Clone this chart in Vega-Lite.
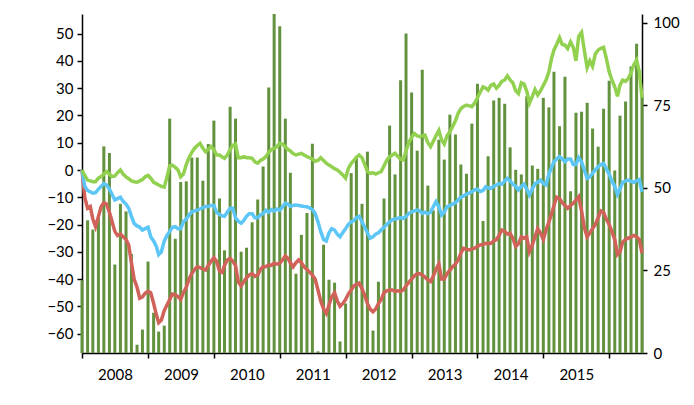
{
"$schema": "https://vega.github.io/schema/vega-lite/v6.json",
"width": 560, "height": 339,
"autosize": {"type": "none"},
"padding": {"left": 82, "top": 14, "right": 52, "bottom": 52},
"background": "white",
"config": {"view": {"stroke": null}, "axis": {"labelFont": "Lato", "labelFontSize": 15, "labelColor": "black", "domainColor": "black", "tickColor": "black", "domainWidth": 1.5, "tickWidth": 1.5, "grid": false, "title": null}},
"datasets": {
"bars": [
{"d":"2008-01-01","v":22},{"d":"2008-02-01","v":40.2},{"d":"2008-03-01","v":37.4},{"d":"2008-04-01","v":41},{"d":"2008-05-01","v":62.6},{"d":"2008-06-01","v":60.6},{"d":"2008-07-01","v":26.8},{"d":"2008-08-01","v":45.2},{"d":"2008-09-01","v":42.9},{"d":"2008-10-01","v":30},{"d":"2008-11-01","v":2.5},{"d":"2008-12-01","v":7.1},
{"d":"2009-01-01","v":27.7},{"d":"2009-02-01","v":12.2},{"d":"2009-03-01","v":6.5},{"d":"2009-04-01","v":8.3},{"d":"2009-05-01","v":71},{"d":"2009-06-01","v":34.6},{"d":"2009-07-01","v":51.8},{"d":"2009-08-01","v":52},{"d":"2009-09-01","v":59.2},{"d":"2009-10-01","v":59.2},{"d":"2009-11-01","v":52.2},{"d":"2009-12-01","v":63.3},
{"d":"2010-01-01","v":70.4},{"d":"2010-02-01","v":46.8},{"d":"2010-03-01","v":31.1},{"d":"2010-04-01","v":74.6},{"d":"2010-05-01","v":71},{"d":"2010-06-01","v":30.7},{"d":"2010-07-01","v":31.9},{"d":"2010-08-01","v":39.6},{"d":"2010-09-01","v":46.5},{"d":"2010-10-01","v":56.5},{"d":"2010-11-01","v":80.4},{"d":"2010-12-01","v":102.7},
{"d":"2011-01-01","v":99},{"d":"2011-02-01","v":71},{"d":"2011-03-01","v":54.6},{"d":"2011-04-01","v":24},{"d":"2011-05-01","v":35.8},{"d":"2011-06-01","v":42.4},{"d":"2011-07-01","v":63.4},{"d":"2011-08-01","v":0.5},{"d":"2011-09-01","v":32.8},{"d":"2011-10-01","v":22.2},{"d":"2011-11-01","v":21.3},{"d":"2011-12-01","v":3.5},
{"d":"2012-01-01","v":15},{"d":"2012-02-01","v":54.5},{"d":"2012-03-01","v":59.6},{"d":"2012-04-01","v":45.2},{"d":"2012-05-01","v":61},{"d":"2012-06-01","v":6.8},{"d":"2012-07-01","v":21.6},{"d":"2012-08-01","v":46.8},{"d":"2012-09-01","v":68.9},{"d":"2012-10-01","v":54.1},{"d":"2012-11-01","v":82.6},{"d":"2012-12-01","v":96.8},
{"d":"2013-01-01","v":78.9},{"d":"2013-02-01","v":61.3},{"d":"2013-03-01","v":85.8},{"d":"2013-04-01","v":50.7},{"d":"2013-05-01","v":43.2},{"d":"2013-06-01","v":64.6},{"d":"2013-07-01","v":58.6},{"d":"2013-08-01","v":72.2},{"d":"2013-09-01","v":66.2},{"d":"2013-10-01","v":57.1},{"d":"2013-11-01","v":54.3},{"d":"2013-12-01","v":69.5},
{"d":"2014-01-01","v":81.6},{"d":"2014-02-01","v":40},{"d":"2014-03-01","v":59.6},{"d":"2014-04-01","v":76.5},{"d":"2014-05-01","v":77.3},{"d":"2014-06-01","v":75.5},{"d":"2014-07-01","v":62.3},{"d":"2014-08-01","v":55.5},{"d":"2014-09-01","v":54.1},{"d":"2014-10-01","v":77.8},{"d":"2014-11-01","v":56.8},{"d":"2014-12-01","v":55.8},
{"d":"2015-01-01","v":77.3},{"d":"2015-02-01","v":74.4},{"d":"2015-03-01","v":85.2},{"d":"2015-04-01","v":68.7},{"d":"2015-05-01","v":83.7},{"d":"2015-06-01","v":49},{"d":"2015-07-01","v":72.8},{"d":"2015-08-01","v":73.1},{"d":"2015-09-01","v":75.8},{"d":"2015-10-01","v":68},{"d":"2015-11-01","v":62.5},{"d":"2015-12-01","v":74},
{"d":"2016-01-01","v":82.5},{"d":"2016-02-01","v":55.3},{"d":"2016-03-01","v":71.9},{"d":"2016-04-01","v":76.2},{"d":"2016-05-01","v":86.8},{"d":"2016-06-01","v":93.7},{"d":"2016-07-01","v":78}
],
"lines": [
{"d":"2008-01-01","g":0,"b":0,"r":0},{"d":"2008-01-16","g":-2,"b":-6,"r":-10},{"d":"2008-02-01","g":-3.7,"b":-7.5,"r":-14},{"d":"2008-02-16","g":-4,"b":-8,"r":-13.4},
{"d":"2008-03-01","g":-4.3,"b":-8.5,"r":-18},{"d":"2008-03-16","g":-4.3,"b":-8.3,"r":-20.8},{"d":"2008-04-01","g":-3,"b":-7,"r":-17},{"d":"2008-04-16","g":-2.4,"b":-6,"r":-13.5},
{"d":"2008-05-01","g":-1.5,"b":-5,"r":-12},{"d":"2008-05-16","g":-0.6,"b":-5.5,"r":-12.5},{"d":"2008-06-01","g":-1.5,"b":-7,"r":-15.5},{"d":"2008-06-16","g":-2.4,"b":-9,"r":-19},
{"d":"2008-07-01","g":-2.2,"b":-11,"r":-22.5},{"d":"2008-07-16","g":-1,"b":-10.5,"r":-24},{"d":"2008-08-01","g":0,"b":-10,"r":-23.5},{"d":"2008-08-16","g":-1.5,"b":-11.5,"r":-24.5},
{"d":"2008-09-01","g":-2.5,"b":-12.5,"r":-25.5},{"d":"2008-09-16","g":-3.2,"b":-14,"r":-27.5},{"d":"2008-10-01","g":-4,"b":-17,"r":-34},{"d":"2008-10-16","g":-4.3,"b":-19.6,"r":-40},
{"d":"2008-11-01","g":-4.5,"b":-20.5,"r":-43},{"d":"2008-11-16","g":-4,"b":-21,"r":-47},{"d":"2008-12-01","g":-3.5,"b":-22,"r":-46.5},{"d":"2008-12-16","g":-2.5,"b":-21.5,"r":-45.2},
{"d":"2009-01-01","g":-2,"b":-21,"r":-44.5},{"d":"2009-01-16","g":-3,"b":-24.5,"r":-45},{"d":"2009-02-01","g":-4.5,"b":-26,"r":-48.9},{"d":"2009-02-16","g":-5,"b":-28,"r":-53},
{"d":"2009-03-01","g":-5.5,"b":-31,"r":-56},{"d":"2009-03-16","g":-6,"b":-30,"r":-55},{"d":"2009-04-01","g":-6.3,"b":-26,"r":-51.5},{"d":"2009-04-16","g":-2.5,"b":-24,"r":-49.5},
{"d":"2009-05-01","g":1.5,"b":-22.5,"r":-47.5},{"d":"2009-05-16","g":1.8,"b":-21,"r":-45.5},{"d":"2009-06-01","g":1,"b":-20.8,"r":-45.8},{"d":"2009-06-16","g":0,"b":-21.5,"r":-46.4},
{"d":"2009-07-01","g":-2.5,"b":-21.5,"r":-47.5},{"d":"2009-07-16","g":-1.5,"b":-19,"r":-45},{"d":"2009-08-01","g":2,"b":-18,"r":-43},{"d":"2009-08-16","g":4.5,"b":-16.5,"r":-40},
{"d":"2009-09-01","g":6.5,"b":-15.3,"r":-37.9},{"d":"2009-09-16","g":8,"b":-15,"r":-36.5},{"d":"2009-10-01","g":9,"b":-14.7,"r":-35.5},{"d":"2009-10-16","g":9.8,"b":-14.3,"r":-35.8},
{"d":"2009-11-01","g":8,"b":-13.8,"r":-36.3},{"d":"2009-11-16","g":6.7,"b":-13.4,"r":-36.7},{"d":"2009-12-01","g":7.5,"b":-13.4,"r":-35},{"d":"2009-12-16","g":8.6,"b":-13,"r":-33.5},
{"d":"2010-01-01","g":7.5,"b":-13,"r":-32.2},{"d":"2010-01-16","g":5.5,"b":-15.5,"r":-33.5},{"d":"2010-02-01","g":5.5,"b":-16.3,"r":-37},{"d":"2010-02-16","g":4.8,"b":-16.8,"r":-37.5},
{"d":"2010-03-01","g":4.3,"b":-17,"r":-35},{"d":"2010-03-16","g":5.5,"b":-15.5,"r":-33},{"d":"2010-04-01","g":7.5,"b":-14,"r":-32.4},{"d":"2010-04-16","g":9,"b":-14,"r":-33.5},
{"d":"2010-05-01","g":9.5,"b":-17.5,"r":-35},{"d":"2010-05-16","g":4.5,"b":-18.8,"r":-41},{"d":"2010-06-01","g":4.5,"b":-19.5,"r":-42.5},{"d":"2010-06-16","g":4.9,"b":-18.5,"r":-41},
{"d":"2010-07-01","g":4.5,"b":-17,"r":-39.5},{"d":"2010-07-16","g":4.5,"b":-16,"r":-38.5},{"d":"2010-08-01","g":4.3,"b":-16,"r":-38},{"d":"2010-08-16","g":3,"b":-17.5,"r":-39},
{"d":"2010-09-01","g":2.5,"b":-17.5,"r":-38.5},{"d":"2010-09-16","g":3.5,"b":-16.5,"r":-36.5},{"d":"2010-10-01","g":4,"b":-16,"r":-35.4},{"d":"2010-10-16","g":4.9,"b":-14.8,"r":-35.5},
{"d":"2010-11-01","g":6.5,"b":-15.5,"r":-34.8},{"d":"2010-11-16","g":7.5,"b":-14.5,"r":-35},{"d":"2010-12-01","g":7.9,"b":-15,"r":-34.2},{"d":"2010-12-16","g":8.5,"b":-14.3,"r":-34.5},
{"d":"2011-01-01","g":9.8,"b":-14.7,"r":-34.2},{"d":"2011-01-16","g":9.5,"b":-13.5,"r":-33},{"d":"2011-02-01","g":8.5,"b":-12.2,"r":-31.5},{"d":"2011-02-16","g":7.5,"b":-12.5,"r":-32.5},
{"d":"2011-03-01","g":7,"b":-13.4,"r":-34},{"d":"2011-03-16","g":6,"b":-13,"r":-35.5},{"d":"2011-04-01","g":5.5,"b":-12.8,"r":-34},{"d":"2011-04-16","g":5.8,"b":-13,"r":-33},
{"d":"2011-05-01","g":6.1,"b":-13.2,"r":-34},{"d":"2011-05-16","g":5.5,"b":-13.4,"r":-35.5},{"d":"2011-06-01","g":4.9,"b":-13.5,"r":-36.5},{"d":"2011-06-16","g":4.5,"b":-13.9,"r":-37.5},
{"d":"2011-07-01","g":4,"b":-14.5,"r":-38.5},{"d":"2011-07-16","g":3.2,"b":-15.9,"r":-40},{"d":"2011-08-01","g":3.5,"b":-19,"r":-44},{"d":"2011-08-16","g":4.5,"b":-22.5,"r":-48},
{"d":"2011-09-01","g":3.5,"b":-25.5,"r":-51},{"d":"2011-09-16","g":2.5,"b":-26,"r":-52.6},{"d":"2011-10-01","g":1.8,"b":-23,"r":-49.5},{"d":"2011-10-16","g":1.2,"b":-21.5,"r":-46.5},
{"d":"2011-11-01","g":0.5,"b":-22,"r":-45},{"d":"2011-11-16","g":0,"b":-23.5,"r":-48},{"d":"2011-12-01","g":-0.8,"b":-24.5,"r":-50},{"d":"2011-12-16","g":-1.8,"b":-23,"r":-49},
{"d":"2012-01-01","g":-3,"b":-21.5,"r":-47.5},{"d":"2012-01-16","g":0.5,"b":-20,"r":-45.5},{"d":"2012-02-01","g":2.4,"b":-19,"r":-44},{"d":"2012-02-16","g":3.5,"b":-18.5,"r":-42.5},
{"d":"2012-03-01","g":4.7,"b":-17.5,"r":-42},{"d":"2012-03-16","g":5.5,"b":-17,"r":-41.5},{"d":"2012-04-01","g":4.5,"b":-19,"r":-43.5},{"d":"2012-04-16","g":2,"b":-21,"r":-46},
{"d":"2012-05-01","g":-0.5,"b":-23,"r":-49},{"d":"2012-05-16","g":-1.2,"b":-25,"r":-51},{"d":"2012-06-01","g":-1,"b":-24.5,"r":-52},{"d":"2012-06-16","g":-1.5,"b":-23.5,"r":-51},
{"d":"2012-07-01","g":-1,"b":-23,"r":-49},{"d":"2012-07-16","g":-0.6,"b":-22,"r":-47.5},{"d":"2012-08-01","g":1.5,"b":-21,"r":-45},{"d":"2012-08-16","g":3.5,"b":-20,"r":-44.3},
{"d":"2012-09-01","g":4.9,"b":-19,"r":-44},{"d":"2012-09-16","g":5.5,"b":-18.3,"r":-44},{"d":"2012-10-01","g":6.1,"b":-18,"r":-44.5},{"d":"2012-10-16","g":5,"b":-17.7,"r":-44.3},
{"d":"2012-11-01","g":4,"b":-17.5,"r":-44.5},{"d":"2012-11-16","g":3.7,"b":-17.7,"r":-44},{"d":"2012-12-01","g":7,"b":-17,"r":-42.5},{"d":"2012-12-16","g":10,"b":-16,"r":-41.2},
{"d":"2013-01-01","g":12,"b":-15.3,"r":-40},{"d":"2013-01-16","g":13.4,"b":-15,"r":-38.8},{"d":"2013-02-01","g":12.5,"b":-14.7,"r":-38},{"d":"2013-02-16","g":12.2,"b":-15,"r":-38},
{"d":"2013-03-01","g":12.5,"b":-15.9,"r":-38.5},{"d":"2013-03-16","g":12.8,"b":-15.5,"r":-39.3},{"d":"2013-04-01","g":10,"b":-16,"r":-40.3},{"d":"2013-04-16","g":8.6,"b":-15.5,"r":-40.9},
{"d":"2013-05-01","g":10.5,"b":-13.5,"r":-39},{"d":"2013-05-16","g":12.5,"b":-11.6,"r":-36.5},{"d":"2013-06-01","g":14.5,"b":-13.5,"r":-34.5},{"d":"2013-06-16","g":11,"b":-16.5,"r":-40},
{"d":"2013-07-01","g":9.5,"b":-15.5,"r":-40},{"d":"2013-07-16","g":12.5,"b":-13.5,"r":-38},{"d":"2013-08-01","g":14,"b":-13,"r":-36.7},{"d":"2013-08-16","g":15.9,"b":-12.5,"r":-35.5},
{"d":"2013-09-01","g":18,"b":-12,"r":-34.5},{"d":"2013-09-16","g":20.8,"b":-11,"r":-33},{"d":"2013-10-01","g":22.5,"b":-10,"r":-30.5},{"d":"2013-10-16","g":23.3,"b":-9.5,"r":-28.7},
{"d":"2013-11-01","g":23.8,"b":-8.8,"r":-29},{"d":"2013-11-16","g":23.5,"b":-8.5,"r":-29.3},{"d":"2013-12-01","g":23.2,"b":-8,"r":-29},{"d":"2013-12-16","g":24.5,"b":-7.3,"r":-28.7},
{"d":"2014-01-01","g":26.5,"b":-7,"r":-28},{"d":"2014-01-16","g":28.5,"b":-7.9,"r":-27.5},{"d":"2014-02-01","g":30.5,"b":-7.5,"r":-27.3},{"d":"2014-02-16","g":30,"b":-6.1,"r":-26.9},
{"d":"2014-03-01","g":29.3,"b":-6.5,"r":-27},{"d":"2014-03-16","g":31,"b":-6.7,"r":-26.9},{"d":"2014-04-01","g":31.5,"b":-6,"r":-26},{"d":"2014-04-16","g":30,"b":-5.5,"r":-25.5},
{"d":"2014-05-01","g":31,"b":-5,"r":-24},{"d":"2014-05-16","g":32.5,"b":-5.2,"r":-22},{"d":"2014-06-01","g":33,"b":-4,"r":-22.5},{"d":"2014-06-16","g":34.5,"b":-3.1,"r":-23.5},
{"d":"2014-07-01","g":33,"b":-4,"r":-23.2},{"d":"2014-07-16","g":32,"b":-5.2,"r":-25},{"d":"2014-08-01","g":29,"b":-6,"r":-28},{"d":"2014-08-16","g":28,"b":-7.3,"r":-27},
{"d":"2014-09-01","g":32,"b":-6,"r":-24.5},{"d":"2014-09-16","g":31.5,"b":-5.2,"r":-25},{"d":"2014-10-01","g":29,"b":-7,"r":-24.5},{"d":"2014-10-16","g":24.5,"b":-9.2,"r":-30},
{"d":"2014-11-01","g":27,"b":-7,"r":-27.5},{"d":"2014-11-16","g":29.5,"b":-5,"r":-24.5},{"d":"2014-12-01","g":27.5,"b":-4.5,"r":-21.5},{"d":"2014-12-16","g":29,"b":-3.7,"r":-23},
{"d":"2015-01-01","g":31,"b":-5,"r":-25.5},{"d":"2015-01-16","g":33,"b":-5.5,"r":-22},{"d":"2015-02-01","g":36,"b":-1.5,"r":-19},{"d":"2015-02-16","g":41,"b":1,"r":-16},
{"d":"2015-03-01","g":44,"b":3,"r":-13},{"d":"2015-03-16","g":46,"b":4,"r":-10},{"d":"2015-04-01","g":48.5,"b":4.9,"r":-10.5},{"d":"2015-04-16","g":46,"b":4,"r":-12},
{"d":"2015-05-01","g":45.8,"b":3,"r":-13},{"d":"2015-05-16","g":44.5,"b":4,"r":-14},{"d":"2015-06-01","g":47,"b":4,"r":-13},{"d":"2015-06-16","g":45,"b":2,"r":-12.2},
{"d":"2015-07-01","g":40,"b":2,"r":-11},{"d":"2015-07-16","g":49,"b":4.5,"r":-9.8},{"d":"2015-08-01","g":50.5,"b":3,"r":-15},{"d":"2015-08-16","g":44,"b":0,"r":-21},
{"d":"2015-09-01","g":37.5,"b":-3,"r":-24.5},{"d":"2015-09-16","g":40,"b":-2.5,"r":-23},{"d":"2015-10-01","g":38,"b":-1.2,"r":-21.5},{"d":"2015-10-16","g":42.5,"b":0,"r":-20},
{"d":"2015-11-01","g":44,"b":1.2,"r":-17.5},{"d":"2015-11-16","g":44.6,"b":2,"r":-15},{"d":"2015-12-01","g":45,"b":2.4,"r":-15.5},{"d":"2015-12-16","g":41,"b":0.5,"r":-18},
{"d":"2016-01-01","g":36,"b":-1.5,"r":-20},{"d":"2016-01-16","g":33,"b":-4,"r":-22.5},{"d":"2016-02-01","g":30.5,"b":-6,"r":-25.5},{"d":"2016-02-16","g":27,"b":-9,"r":-31},
{"d":"2016-03-01","g":31,"b":-7,"r":-30},{"d":"2016-03-16","g":33,"b":-4.5,"r":-26.5},{"d":"2016-04-01","g":32.5,"b":-4,"r":-25.5},{"d":"2016-04-16","g":33.6,"b":-3.7,"r":-25},
{"d":"2016-05-01","g":35.5,"b":-4.2,"r":-24.5},{"d":"2016-05-16","g":38.5,"b":-4.5,"r":-24},{"d":"2016-06-01","g":40.3,"b":-4,"r":-24.5},{"d":"2016-06-16","g":36,"b":-3.5,"r":-25.5},
{"d":"2016-07-01","g":26.5,"b":-8,"r":-30.5}
]
},
"layer": [
{
"data": {"name": "bars"},
"mark": {"type": "bar", "color": "#62923e", "size": 3},
"encoding": {
"x": {"field": "d", "type": "temporal", "scale": {"type": "utc", "padding": 0, "domain": [{"year": 2008, "month": 1, "date": 1, "utc": true}, {"year": 2016, "month": 7, "date": 1, "utc": true}]},
"axis": {"orient": "bottom", "values": [{"year":2008,"month":1,"date":1,"utc":true},{"year":2009,"month":1,"date":1,"utc":true},{"year":2010,"month":1,"date":1,"utc":true},{"year":2011,"month":1,"date":1,"utc":true},{"year":2012,"month":1,"date":1,"utc":true},{"year":2013,"month":1,"date":1,"utc":true},{"year":2014,"month":1,"date":1,"utc":true},{"year":2015,"month":1,"date":1,"utc":true},{"year":2016,"month":1,"date":1,"utc":true}],
"labelExpr": "utcyear(datum.value) < 2016 ? utcFormat(datum.value, '%Y') : ''", "labelOffset": 33, "tickSize": 5, "labelPadding": 9, "labelOverlap": false, "labelFlush": false}},
"y": {"field": "v", "type": "quantitative", "scale": {"domain": [0, 102.7], "nice": false, "zero": false},
"axis": {"orient": "right", "values": [0, 25, 50, 75, 100], "tickSize": 5, "labelPadding": 6}}
}
},
{
"data": {"name": "lines"},
"transform": [{"fold": ["r", "b", "g"], "as": ["s", "val"]}],
"mark": {"type": "line", "strokeWidth": 3.5},
"encoding": {
"x": {"field": "d", "type": "temporal"},
"y": {"field": "val", "type": "quantitative", "scale": {"domain": [-67.1, 57.2], "nice": false, "zero": false},
"axis": {"orient": "left", "values": [-60, -50, -40, -30, -20, -10, 0, 10, 20, 30, 40, 50], "tickSize": 5, "labelPadding": 4}},
"color": {"field": "s", "type": "nominal", "scale": {"domain": ["r", "b", "g"], "range": ["#d0625a", "#5cc6f7", "#92d050"]}, "legend": null},
"order": {"field": "d", "type": "temporal"}
}
}
],
"resolve": {"scale": {"y": "independent"}}
}
